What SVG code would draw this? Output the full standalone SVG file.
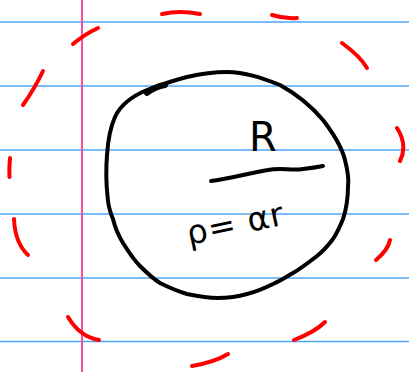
<svg xmlns="http://www.w3.org/2000/svg" width="409" height="372" viewBox="0 0 409 372">
<style>
.rule{stroke:#4ea6f5;stroke-width:1.5}
.margin{stroke:#f5509f;stroke-width:2}
.dash{fill:none;stroke:#ff0000;stroke-width:4;stroke-linecap:round;stroke-linejoin:round}
.ink{fill:none;stroke:#000;stroke-width:4;stroke-linecap:round;stroke-linejoin:round}
.hand{font-family:"DejaVu Sans","Liberation Sans",sans-serif;fill:#000}
</style>
<rect width="409" height="372" fill="#fff"/>
<g id="paper">
<line class="rule" x1="0" y1="22" x2="409" y2="22"/>
<line class="rule" x1="0" y1="86" x2="409" y2="86"/>
<line class="rule" x1="0" y1="150" x2="409" y2="150"/>
<line class="rule" x1="0" y1="214" x2="409" y2="214"/>
<line class="rule" x1="0" y1="278" x2="409" y2="278"/>
<line class="rule" x1="0" y1="341.5" x2="409" y2="341.5"/>
<line class="margin" x1="82" y1="0" x2="82" y2="372"/>
</g>
<g id="outer-dashed-circle">
<path class="dash" d="M162,14 Q180,10 200,14"/>
<path class="dash" d="M272,15 Q285,19 297,18"/>
<path class="dash" d="M342,43 Q360,56 367,68"/>
<path class="dash" d="M397,128 Q408,145 400,161"/>
<path class="dash" d="M390,240 Q388,250 376,260"/>
<path class="dash" d="M325,322 Q315,332 294,340"/>
<path class="dash" d="M228,354 Q215,362 192,366"/>
<path class="dash" d="M68,317 Q80,337 99,340"/>
<path class="dash" d="M14,219 Q15,243 28,255"/>
<path class="dash" d="M10,158 Q9,168 9.5,177"/>
<path class="dash" d="M43,71 Q35,88 23,105"/>
<path class="dash" d="M73,44 Q85,34 98,28"/>
</g>
<g id="inner-circle">
<path class="ink" d="M147,90 C160,85 175,80 187,77 C200,74 213,72 227,72 C245,72 262,78 280,85 C298,95 313,108 323,120 C333,133 342,148 345,160 C348,172 349,180 348,186 C348,198 346,210 343,219 C339,229 335,236 333,239 C327,247 322,252 317,256 C308,263 300,269 293,273 C286,277 280,281 273,284 C263,289 255,292 247,294 C237,297 227,298 217,298 C207,298 197,296 187,294 C177,291 168,287 160,283 C152,278 146,272 140,266 C133,259 128,251 123,243 C118,235 115,227 113,219 C110,212 108,205 107.5,196 C106,182 106,168 107,155 C108,140 110,128 115,117 C120,106 130,97 147,90"/>
<path d="M147,93 C152,89 158,86 165,85" fill="none" stroke="#000" stroke-width="6" stroke-linecap="round"/>
</g>
<g id="radius">
<path class="ink" d="M211,181 C233,178 250,173 268,170 C282,167 290,171 303,169 C312,168 318,167 323,166"/>
<text class="hand" x="249" y="151" font-size="40">R</text>
<text class="hand" x="189" y="245" font-size="33" letter-spacing="1" transform="rotate(-12 189 245)">ρ= αr</text>
</g>
</svg>
